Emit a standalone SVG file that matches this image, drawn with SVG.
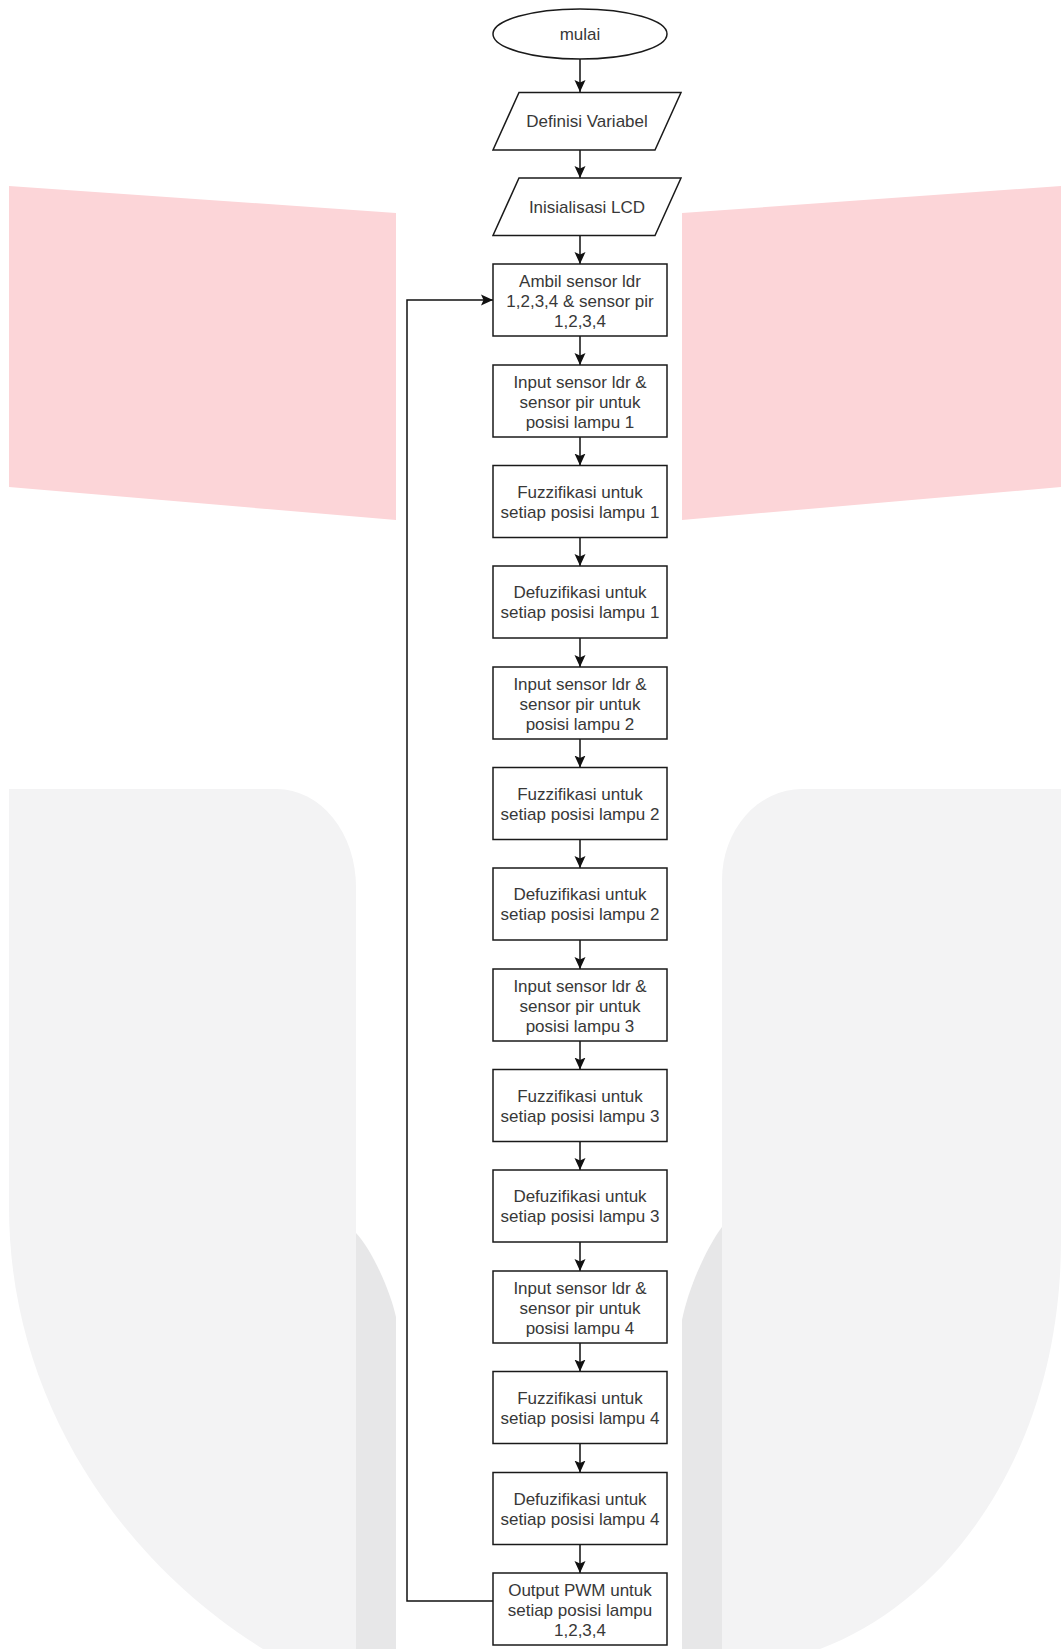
<svg xmlns="http://www.w3.org/2000/svg" width="1061" height="1649" viewBox="0 0 1061 1649">
<defs>
<style>
.box{fill:#ffffff;stroke:#1a1a1a;stroke-width:1.5}
.t{font-family:"Liberation Sans",Arial,sans-serif;font-size:17px;fill:#383838;text-anchor:middle}
.c{fill:none;stroke:#111111;stroke-width:1.5}
.pink{fill:#fcd5d8}
.gray{fill:#f3f3f4}
.gray2{fill:#e7e7e8}
</style>
<marker id="arr" viewBox="0 0 12 12" refX="12" refY="6" markerWidth="12" markerHeight="12" markerUnits="userSpaceOnUse" orient="auto">
<path d="M0,0.5 L12,6 L0,11.5 L2.5,6 Z" fill="#111111"/>
</marker>
</defs>
<rect width="1061" height="1649" fill="#ffffff"/>
<g id="background">
<polygon class="pink" points="9,186 396,213 396,520 9,487"/>
<polygon class="pink" points="682,213 1061,186 1061,487 682,520"/>
<path class="gray" d="M9,789 H277 A79,98 0 0 1 356,887 V1649 H263 C120,1560 9,1400 9,1207 Z"/>
<path class="gray2" d="M356,1233 C372,1250 390,1290 396,1317 V1649 H356 Z"/>
<path class="gray" d="M1061,789 H802 A80,91 0 0 0 722,880 V1649 H820 C950,1600 1061,1450 1061,1240 Z"/>
<path class="gray2" d="M722,1227 C705,1250 688,1290 682,1320 V1649 H722 Z"/>
</g>
<g id="connectors">
<path class="c" marker-end="url(#arr)" d="M580,59 V92"/>
<path class="c" marker-end="url(#arr)" d="M580,150 V178"/>
<path class="c" marker-end="url(#arr)" d="M580,236 V264"/>
<path class="c" marker-end="url(#arr)" d="M580,336 V365"/>
<path class="c" marker-end="url(#arr)" d="M580,437 V465.5"/>
<path class="c" marker-end="url(#arr)" d="M580,537.5 V566"/>
<path class="c" marker-end="url(#arr)" d="M580,638 V667"/>
<path class="c" marker-end="url(#arr)" d="M580,739 V767.5"/>
<path class="c" marker-end="url(#arr)" d="M580,839.5 V868"/>
<path class="c" marker-end="url(#arr)" d="M580,940 V969"/>
<path class="c" marker-end="url(#arr)" d="M580,1041 V1069.5"/>
<path class="c" marker-end="url(#arr)" d="M580,1141.5 V1170"/>
<path class="c" marker-end="url(#arr)" d="M580,1242 V1271"/>
<path class="c" marker-end="url(#arr)" d="M580,1343 V1371.5"/>
<path class="c" marker-end="url(#arr)" d="M580,1443.5 V1472.5"/>
<path class="c" marker-end="url(#arr)" d="M580,1544.5 V1573"/>
<path class="c" marker-end="url(#arr)" d="M493,1601 H407 V300 H493"/>
</g>
<g id="n-mulai">
<ellipse class="box" cx="580" cy="34" rx="87" ry="25"/>
<text class="t" x="580" y="40">mulai</text>
</g>
<g id="n-definisi">
<polygon class="box" points="519,92.5 681,92.5 655,150 493,150"/>
<text class="t" x="587" y="127">Definisi Variabel</text>
</g>
<g id="n-lcd">
<polygon class="box" points="519,178 681,178 655,235.5 493,235.5"/>
<text class="t" x="587" y="213">Inisialisasi LCD</text>
</g>
<g id="n-ambil">
<rect class="box" x="493" y="264" width="174" height="72"/>
<text class="t"><tspan x="580" y="287">Ambil sensor ldr</tspan><tspan x="580" y="307">1,2,3,4 &amp; sensor pir</tspan><tspan x="580" y="327">1,2,3,4</tspan></text>
</g>
<g id="n-input1">
<rect class="box" x="493" y="365" width="174" height="72"/>
<text class="t"><tspan x="580" y="388">Input sensor ldr &amp;</tspan><tspan x="580" y="408">sensor pir untuk</tspan><tspan x="580" y="428">posisi lampu 1</tspan></text>
</g>
<g id="n-fuzz1">
<rect class="box" x="493" y="465.5" width="174" height="72"/>
<text class="t"><tspan x="580" y="497.5">Fuzzifikasi untuk</tspan><tspan x="580" y="517.5">setiap posisi lampu 1</tspan></text>
</g>
<g id="n-defuz1">
<rect class="box" x="493" y="566" width="174" height="72"/>
<text class="t"><tspan x="580" y="598">Defuzifikasi untuk</tspan><tspan x="580" y="618">setiap posisi lampu 1</tspan></text>
</g>
<g id="n-input2">
<rect class="box" x="493" y="667" width="174" height="72"/>
<text class="t"><tspan x="580" y="690">Input sensor ldr &amp;</tspan><tspan x="580" y="710">sensor pir untuk</tspan><tspan x="580" y="730">posisi lampu 2</tspan></text>
</g>
<g id="n-fuzz2">
<rect class="box" x="493" y="767.5" width="174" height="72"/>
<text class="t"><tspan x="580" y="799.5">Fuzzifikasi untuk</tspan><tspan x="580" y="819.5">setiap posisi lampu 2</tspan></text>
</g>
<g id="n-defuz2">
<rect class="box" x="493" y="868" width="174" height="72"/>
<text class="t"><tspan x="580" y="900">Defuzifikasi untuk</tspan><tspan x="580" y="920">setiap posisi lampu 2</tspan></text>
</g>
<g id="n-input3">
<rect class="box" x="493" y="969" width="174" height="72"/>
<text class="t"><tspan x="580" y="992">Input sensor ldr &amp;</tspan><tspan x="580" y="1012">sensor pir untuk</tspan><tspan x="580" y="1032">posisi lampu 3</tspan></text>
</g>
<g id="n-fuzz3">
<rect class="box" x="493" y="1069.5" width="174" height="72"/>
<text class="t"><tspan x="580" y="1101.5">Fuzzifikasi untuk</tspan><tspan x="580" y="1121.5">setiap posisi lampu 3</tspan></text>
</g>
<g id="n-defuz3">
<rect class="box" x="493" y="1170" width="174" height="72"/>
<text class="t"><tspan x="580" y="1202">Defuzifikasi untuk</tspan><tspan x="580" y="1222">setiap posisi lampu 3</tspan></text>
</g>
<g id="n-input4">
<rect class="box" x="493" y="1271" width="174" height="72"/>
<text class="t"><tspan x="580" y="1294">Input sensor ldr &amp;</tspan><tspan x="580" y="1314">sensor pir untuk</tspan><tspan x="580" y="1334">posisi lampu 4</tspan></text>
</g>
<g id="n-fuzz4">
<rect class="box" x="493" y="1371.5" width="174" height="72"/>
<text class="t"><tspan x="580" y="1403.5">Fuzzifikasi untuk</tspan><tspan x="580" y="1423.5">setiap posisi lampu 4</tspan></text>
</g>
<g id="n-defuz4">
<rect class="box" x="493" y="1472.5" width="174" height="72"/>
<text class="t"><tspan x="580" y="1504.5">Defuzifikasi untuk</tspan><tspan x="580" y="1524.5">setiap posisi lampu 4</tspan></text>
</g>
<g id="n-output">
<rect class="box" x="493" y="1573" width="174" height="72"/>
<text class="t"><tspan x="580" y="1596">Output PWM untuk</tspan><tspan x="580" y="1616">setiap posisi lampu</tspan><tspan x="580" y="1636">1,2,3,4</tspan></text>
</g>
</svg>
